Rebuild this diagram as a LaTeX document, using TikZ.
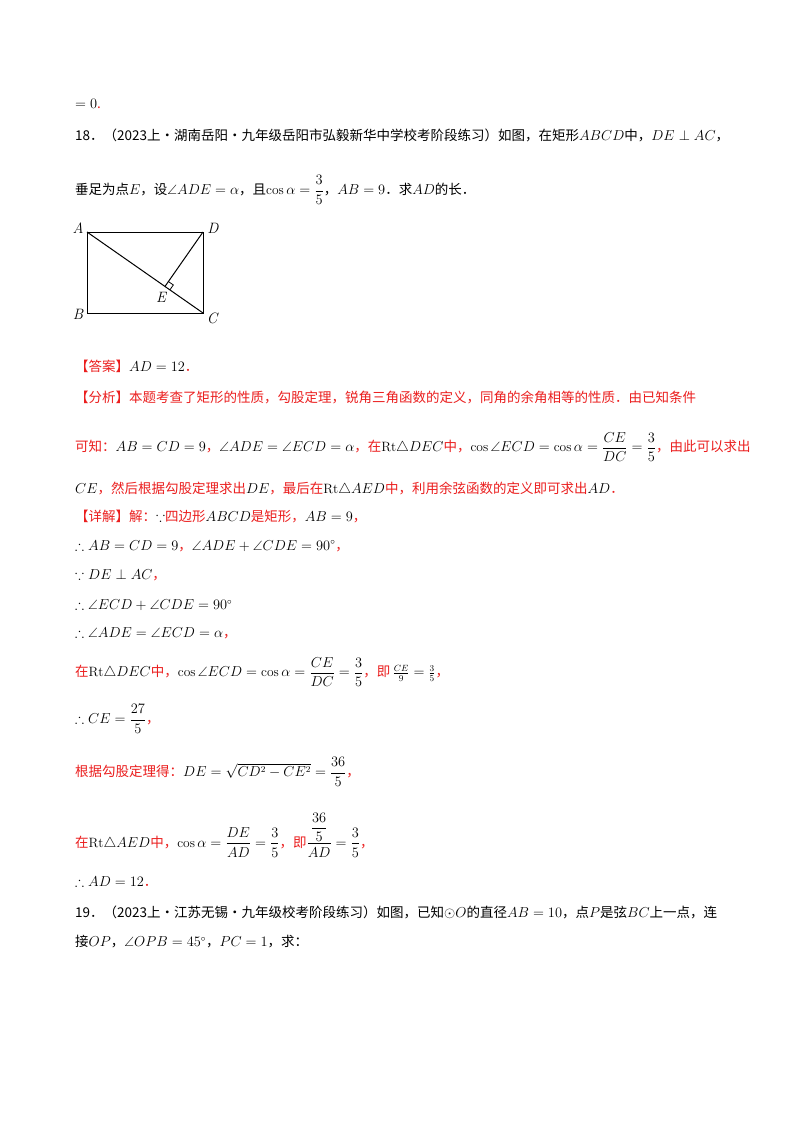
\documentclass[tikz,border=0pt]{standalone}
\usepackage{amsmath,amssymb}
\usepackage{fontspec}
\newfontfamily\cjk{Noto Sans CJK SC}
\usetikzlibrary{calc}
\definecolor{myred}{RGB}{235,30,30}
\begin{document}
\begin{tikzpicture}[x=1pt,y=-1pt,
  txt/.style={anchor=west,inner sep=0pt,font=\fontsize{13.5}{16}\selectfont\cjk},
  rt/.style={txt,text=myred},
  lbl/.style={inner sep=0pt,font=\fontsize{15}{16}\selectfont\itshape},
  fig/.style={line width=1pt}]
\useasboundingbox[fill=white] (0,0) rectangle (800,1132);
\node[txt] (l0) at (75,104) {$=0$\textcolor{myred}{.}};
\node[txt] (l1) at (75,135) {18．（2023上·湖南岳阳·九年级岳阳市弘毅新华中学校考阶段练习）如图，在矩形$ABCD$中，$DE\perp AC$，};
\node[txt] (l2) at (75,190) {垂足为点$E$，设$\angle ADE=\alpha$，且$\cos\alpha=\dfrac{3}{5}$，$AB=9$．求$AD$的长．};
% figure
\coordinate (A) at (87,232); \coordinate (D) at (203,232);
\coordinate (B) at (87,313); \coordinate (C) at (203,313);
\coordinate (E) at ($(A)!(D)!(C)$);
\coordinate (p1) at ($(E)!6pt!(C)$);
\coordinate (p2) at ($(E)!6pt!(D)$);
\draw[fig] (A) -- (D) -- (C) -- (B) -- cycle;
\draw[fig] (A) -- (C); \draw[fig] (D) -- (E);
\draw[line width=0.8pt] (p1) -- ($(p1)+(p2)-(E)$) -- (p2);
\node[lbl] (la) at (78,228) {A};
\node[lbl] (ld) at (213,228) {D};
\node[lbl] (lb) at (78,314) {B};
\node[lbl] (lc) at (212,318) {C};
\node[lbl] (le) at (161,297) {E};
% answer
\node[rt] (ans) at (75,366) {【答案】\textcolor{black}{$AD=12$}．};
\node[rt] (an1) at (75,397) {【分析】本题考查了矩形的性质，勾股定理，锐角三角函数的定义，同角的余角相等的性质．由已知条件};
\node[rt] (an2) at (75,447) {可知：\textcolor{black}{$AB=CD=9$}，\textcolor{black}{$\angle ADE=\angle ECD=\alpha$}，在\textcolor{black}{$\mathrm{Rt}\triangle DEC$}中，\textcolor{black}{$\cos\angle ECD=\cos\alpha=\dfrac{CE}{DC}=\dfrac{3}{5}$}，由此可以求出};
\node[rt] (an3) at (75,489) {\textcolor{black}{$CE$}，然后根据勾股定理求出\textcolor{black}{$DE$}，最后在\textcolor{black}{$\mathrm{Rt}\triangle AED$}中，利用余弦函数的定义即可求出\textcolor{black}{$AD$}．};
\node[rt] (d1) at (75,517) {【详解】解：\textcolor{black}{$\because$}四边形\textcolor{black}{$ABCD$}是矩形，\textcolor{black}{$AB=9$}，};
\node[txt] (d2) at (75,546) {$\therefore AB=CD=9$\textcolor{myred}{，}$\angle ADE+\angle CDE=90^\circ$\textcolor{myred}{，}};
\node[txt] (d3) at (75,575) {$\because DE\perp AC$\textcolor{myred}{，}};
\node[txt] (d4) at (75,605) {$\therefore \angle ECD+\angle CDE=90^\circ$};
\node[txt] (d5) at (75,633) {$\therefore \angle ADE=\angle ECD=\alpha$\textcolor{myred}{，}};
\node[rt] (d6) at (75,672) {在\textcolor{black}{$\mathrm{Rt}\triangle DEC$}中，\textcolor{black}{$\cos\angle ECD=\cos\alpha=\dfrac{CE}{DC}=\dfrac{3}{5}$}，即\,\textcolor{black}{$\frac{CE}{9}=\frac{3}{5}$}，};
\node[txt] (d7) at (75,719) {$\therefore CE=\dfrac{27}{5}$\textcolor{myred}{，}};
\node[rt] (d8) at (75,772) {根据勾股定理得：\textcolor{black}{$DE=\sqrt{CD^2-CE^2}=\dfrac{36}{5}$}，};
\node[rt] (d9) at (75,835) {在\textcolor{black}{$\mathrm{Rt}\triangle AED$}中，\textcolor{black}{$\cos\alpha=\dfrac{DE}{AD}=\dfrac{3}{5}$}，即\textcolor{black}{$\dfrac{\dfrac{36}{5}}{AD}=\dfrac{3}{5}$}，};
\node[txt] (d10) at (75,882) {$\therefore AD=12$\textcolor{myred}{．}};
\node[txt] (q1) at (75,912) {19．（2023上·江苏无锡·九年级校考阶段练习）如图，已知$\odot O$的直径$AB=10$，点$P$是弦$BC$上一点，连};
\node[txt] (q2) at (75,942) {接$OP$，$\angle OPB=45^\circ$，$PC=1$，求：};
\end{tikzpicture}
\end{document}
